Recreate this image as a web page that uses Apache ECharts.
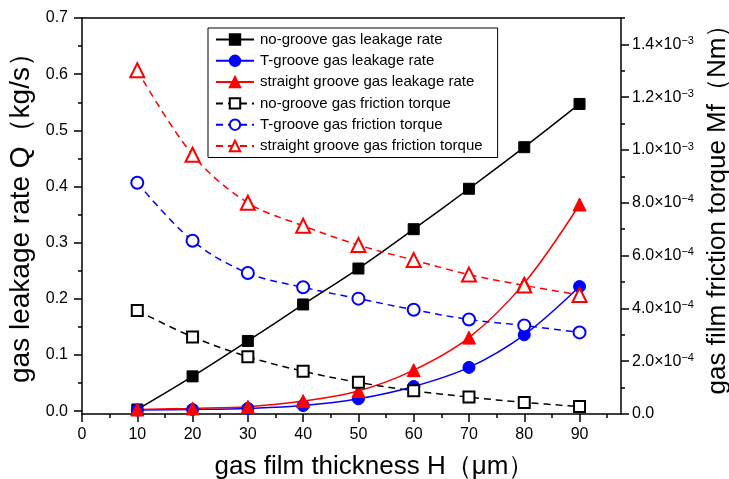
<!DOCTYPE html>
<html>
<head>
<meta charset="utf-8">
<script src="https://cdn.jsdelivr.net/npm/echarts@6/dist/echarts.min.js"></script>
<style>
  html, body { margin: 0; padding: 0; background: #fff; overflow: hidden; }
  #chart { width: 729px; height: 479px; }
</style>
</head>
<body>
<div id="chart"></div>
<script>
// Gas film thickness H (μm)
const thickness = [10, 20, 30, 40, 50, 60, 70, 80, 90];

// Leakage rate Q (kg/s), left axis
const noGrooveLeak = [0.003, 0.062, 0.125, 0.190, 0.254, 0.324, 0.396, 0.470, 0.547];
const tGrooveLeak = [0.002, 0.003, 0.005, 0.010, 0.022, 0.044, 0.078, 0.136, 0.222];
const straightLeak = [0.003, 0.005, 0.008, 0.018, 0.036, 0.073, 0.131, 0.228, 0.368];

// Friction torque Mf (N·m), right axis
const noGrooveTorque = [3.92e-4, 2.92e-4, 2.17e-4, 1.62e-4, 1.20e-4, 0.88e-4, 0.64e-4, 0.44e-4, 0.28e-4];
const tGrooveTorque = [8.76e-4, 6.56e-4, 5.34e-4, 4.80e-4, 4.37e-4, 3.95e-4, 3.58e-4, 3.35e-4, 3.09e-4];
const straightTorque = [1.302e-3, 0.982e-3, 0.800e-3, 0.713e-3, 0.640e-3, 0.583e-3, 0.528e-3, 0.487e-3, 0.451e-3];

// Tick positions
const xTicks = [0, 10, 20, 30, 40, 50, 60, 70, 80, 90];
const xMinorTicks = [5, 15, 25, 35, 45, 55, 65, 75, 85, 95];
const leftTicks = [0, 0.1, 0.2, 0.3, 0.4, 0.5, 0.6, 0.7];
const leftMinorTicks = [0.05, 0.15, 0.25, 0.35, 0.45, 0.55, 0.65];
const rightTicks = [0, 2e-4, 4e-4, 6e-4, 8e-4, 10e-4, 12e-4, 14e-4];
const rightMinorTicks = [1e-4, 3e-4, 5e-4, 7e-4, 9e-4, 11e-4, 13e-4, 15e-4];

const FONT = 'Liberation Sans, Arial, sans-serif';
const pair = (ys) => thickness.map((x, i) => [x, ys[i]]);

function sciLabel(v) {
  if (Math.abs(v) < 1e-12) return '{m|0.0}';
  const exp = Math.floor(Math.log10(Math.abs(v)) + 1e-9);
  const mant = v / Math.pow(10, exp);
  return '{m|' + mant.toFixed(1) + '×10}{s|−' + Math.abs(exp) + '}';
}

const chart = echarts.init(document.getElementById('chart'), null, { renderer: 'canvas', width: 729, height: 479 });

const axisLineStyle = { color: '#000', width: 1.5 };
const tickStyle = { color: '#000', width: 1.5 };
const X_MIN = 0, X_MAX = 97.5;
const L_MIN = -0.005, L_MAX = 0.7;
const R_MIN = 0, R_MAX = 1.5e-3;

function leakSeries(name, data, color, symbol, size) {
  return {
    name, type: 'line', xAxisIndex: 0, yAxisIndex: 0,
    data: pair(data), smooth: 0.35,
    symbol, symbolSize: size,
    lineStyle: { color, width: 1.5, type: 'solid' },
    itemStyle: { color, borderColor: color, borderWidth: 1 },
    z: 3
  };
}
function torqueSeries(name, data, color, symbol, size) {
  return {
    name, type: 'line', xAxisIndex: 0, yAxisIndex: 1,
    data: pair(data), smooth: 0.35,
    symbol, symbolSize: size,
    lineStyle: { color, width: 1.5, type: [7, 5] },
    itemStyle: { color, borderColor: color, borderWidth: 1.2 },
    z: 4
  };
}

function plainAxis(extra) {
  return Object.assign({
    type: 'value',
    axisLine: { show: false, onZero: false },
    axisTick: { show: false },
    axisLabel: { show: false },
    splitLine: { show: false }
  }, extra);
}

const option = {
  backgroundColor: '#fff',
  animation: false,
  textStyle: { fontFamily: FONT },
  grid: { left: 82, top: 18, width: 539, height: 396, containLabel: false, outerBoundsMode: 'none' },
  legend: {
    orient: 'vertical',
    left: 208, top: 28,
    padding: [4, 15, 4, 7],
    itemWidth: 38, itemHeight: 13, itemGap: 6.3,
    borderColor: '#000', borderWidth: 1, borderRadius: 0,
    backgroundColor: '#fff',
    textStyle: { fontFamily: FONT, fontSize: 15, color: '#000', padding: [0, 0, 0, 1] },
    data: [
      'no-groove gas leakage rate',
      'T-groove gas leakage rate',
      'straight groove gas leakage rate',
      'no-groove gas friction torque',
      'T-groove gas friction torque',
      'straight groove gas friction torque'
    ],
    z: 10
  },
  xAxis: [
    {
      type: 'value', position: 'bottom', min: X_MIN, max: X_MAX,
      name: 'gas film thickness H（μm）', nameLocation: 'middle', nameGap: 40,
      nameTextStyle: { fontFamily: FONT, fontSize: 26, color: '#000', padding: [0, 0, 0, 46] },
      axisLine: { onZero: false, lineStyle: axisLineStyle },
      axisTick: { customValues: xTicks, length: 8, inside: false, lineStyle: tickStyle },
      axisLabel: { customValues: xTicks, margin: 13, fontSize: 16, color: '#000', fontFamily: FONT,
                   formatter: (v) => String(Math.round(v)) },
      splitLine: { show: false }
    },
    plainAxis({
      // minor ticks on the bottom axis
      position: 'bottom', min: X_MIN, max: X_MAX,
      axisTick: { show: true, customValues: xMinorTicks, length: 4, inside: false, lineStyle: tickStyle }
    }),
    plainAxis({
      // top frame line
      position: 'top', min: X_MIN, max: X_MAX,
      axisLine: { show: true, onZero: false, lineStyle: axisLineStyle }
    })
  ],
  yAxis: [
    {
      type: 'value', position: 'left', min: L_MIN, max: L_MAX,
      name: 'gas leakage rate Q（kg/s）', nameLocation: 'middle', nameGap: 37, nameRotate: 90,
      nameTextStyle: { fontFamily: FONT, fontSize: 28, color: '#000', padding: [0, 0, 0, 10] },
      axisLine: { onZero: false, lineStyle: axisLineStyle },
      axisTick: { customValues: leftTicks, length: 8, inside: false, lineStyle: tickStyle },
      axisLabel: { customValues: leftTicks, margin: 14, fontSize: 16, color: '#000', fontFamily: FONT,
                   formatter: (v) => v.toFixed(1) },
      splitLine: { show: false }
    },
    {
      type: 'value', position: 'right', min: R_MIN, max: R_MAX,
      name: 'gas film friction torque Mf（Nm）', nameLocation: 'middle', nameGap: 84, nameRotate: 90,
      nameTextStyle: { fontFamily: FONT, fontSize: 26, color: '#000', padding: [0, 0, 0, 26] },
      axisLine: { show: true, onZero: false, lineStyle: axisLineStyle },
      axisTick: { customValues: rightTicks, length: 8, inside: false, lineStyle: tickStyle },
      axisLabel: {
        customValues: rightTicks, margin: 11, color: '#000', fontFamily: FONT,
        formatter: sciLabel,
        rich: {
          m: { fontSize: 16, fontFamily: FONT, color: '#000', lineHeight: 18 },
          s: { fontSize: 11, fontFamily: FONT, color: '#000', verticalAlign: 'top', padding: [0, 0, 8, 0], lineHeight: 18 }
        }
      },
      splitLine: { show: false }
    },
    plainAxis({
      // minor ticks, left
      position: 'left', min: L_MIN, max: L_MAX,
      axisTick: { show: true, customValues: leftMinorTicks, length: 4, inside: false, lineStyle: tickStyle }
    }),
    plainAxis({
      // minor ticks, right
      position: 'right', min: R_MIN, max: R_MAX,
      axisTick: { show: true, customValues: rightMinorTicks, length: 4, inside: false, lineStyle: tickStyle }
    })
  ],
  series: [
    leakSeries('no-groove gas leakage rate', noGrooveLeak, '#000000', 'rect', 11),
    leakSeries('T-groove gas leakage rate', tGrooveLeak, '#0000ff', 'circle', 12),
    leakSeries('straight groove gas leakage rate', straightLeak, '#ff0000', 'triangle', 13),
    torqueSeries('no-groove gas friction torque', noGrooveTorque, '#000000', 'emptyRect', 11),
    torqueSeries('T-groove gas friction torque', tGrooveTorque, '#0000ff', 'emptyCircle', 12),
    torqueSeries('straight groove gas friction torque', straightTorque, '#ff0000', 'emptyTriangle', 14)
  ]
};

chart.setOption(option);
</script>
</body>
</html>
